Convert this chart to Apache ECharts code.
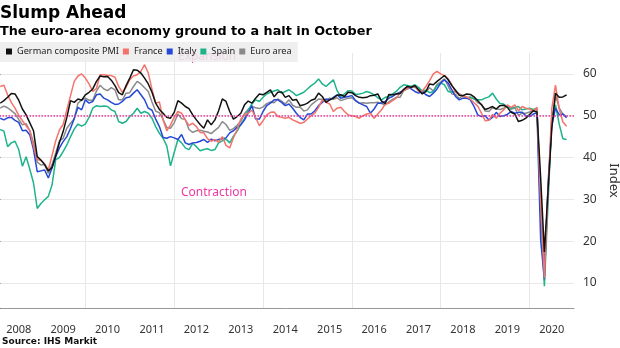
<!DOCTYPE html>
<html>
<head>
<meta charset="utf-8">
<script src="https://cdn.jsdelivr.net/npm/echarts@6/dist/echarts.min.js"></script>
<style>
  html, body { margin: 0; padding: 0; background: #fff; }
  #chart { width: 620px; height: 348px; }
</style>
</head>
<body>
<div id="chart"></div>
<script>
// Year labels along the bottom axis (one band per calendar year)
const years = ['2008', '2009', '2010', '2011', '2012', '2013', '2014',
  '2015', '2016', '2017', '2018', '2019', '2020'];

// Monthly composite PMI readings, Jan 2008 - Oct 2020
const german = [
  53.0, 53.6, 54.4, 55.3, 55.2, 53.7, 51.6, 50.2, 48.3, 46.4, 40.2, 39.4,
  38.3, 36.8, 37.6, 40.4, 43.6, 46.2, 49.6, 53.6, 53.2, 54.0, 53.7, 55.0,
  55.6, 56.4, 58.2, 59.5, 59.3, 59.4, 58.5, 57.2, 55.5, 55.0, 57.2, 59.0,
  61.0, 60.9, 60.2, 59.0, 57.6, 55.6, 53.0, 51.5, 50.6, 49.6, 49.4, 50.8,
  53.6, 53.0, 52.2, 51.7, 50.2, 49.0, 47.9, 47.0, 49.0, 47.8, 49.0, 51.2,
  54.0, 53.4, 51.0, 49.2, 49.8, 50.6, 52.6, 53.5, 53.0, 54.2, 55.2, 55.0,
  55.6, 56.2, 54.5, 55.6, 55.7, 54.4, 54.8, 53.7, 53.9, 52.4, 52.6, 53.0,
  53.7, 54.0, 55.4, 54.6, 53.2, 53.8, 54.2, 54.9, 55.0, 54.6, 55.6, 55.5,
  54.8, 54.4, 54.3, 54.4, 54.8, 54.9, 55.2, 53.5, 52.9, 55.1, 55.0, 55.2,
  55.3, 56.3, 57.0, 56.8, 57.2, 56.2, 55.2, 55.8, 57.6, 57.4, 58.2, 58.9,
  59.6, 58.6, 57.2, 56.1, 54.9, 54.8, 55.2, 55.1, 54.5, 53.6, 52.6, 51.5,
  51.8, 52.2, 51.6, 52.4, 52.5, 52.0, 50.8, 50.4, 48.6, 48.9, 49.4, 50.3,
  51.2, 50.9, 35.0, 17.4, 32.3, 47.0, 55.4, 54.4, 54.5, 55.0
];

const france = [
  57.0, 57.3, 55.0, 53.2, 51.8, 50.1, 48.8, 47.6, 46.4, 42.7, 39.5, 39.3,
  38.5, 37.0, 40.5, 44.0, 46.6, 47.9, 51.4, 54.8, 58.2, 59.5, 60.0, 59.0,
  57.6, 55.8, 56.5, 59.8, 59.8, 59.6, 59.6, 59.2, 57.0, 55.6, 56.8, 58.6,
  59.5, 59.8, 60.6, 62.2, 60.2, 56.3, 53.0, 53.3, 49.0, 46.4, 47.8, 49.6,
  51.0, 50.6, 49.0, 47.7, 48.2, 47.4, 46.0, 45.9, 44.5, 43.9, 44.3, 43.6,
  45.0, 42.9, 42.3, 44.7, 46.7, 49.2, 50.2, 50.6, 51.3, 49.6, 47.6, 48.8,
  50.2, 50.8, 50.9, 49.8, 49.6, 49.4, 49.6, 49.0, 48.6, 48.2, 48.4, 49.2,
  50.0, 50.6, 52.0, 53.8, 53.2, 52.8, 51.0, 51.8, 52.0, 51.0, 50.2, 50.0,
  49.8, 49.4, 50.0, 50.4, 50.6, 49.4, 50.4, 51.4, 52.8, 53.0, 53.6, 54.2,
  55.4, 56.0, 56.6, 56.8, 57.2, 55.8, 55.9, 57.0, 58.4, 60.0, 60.6, 60.0,
  59.6, 58.8, 57.4, 55.6, 55.2, 54.6, 54.5, 54.0, 53.1, 52.3, 50.6, 48.8,
  48.9, 50.3, 49.4, 50.6, 51.4, 52.6, 52.0, 52.6, 51.2, 52.2, 51.8, 51.6,
  51.1, 52.0, 28.9, 11.1, 32.1, 51.7, 57.3, 51.6, 48.5, 47.5
];

const italy = [
  49.4, 49.0, 49.5, 49.6, 48.9, 48.4, 46.4, 46.5, 45.4, 41.9, 36.6, 36.8,
  37.0, 35.1, 37.5, 40.2, 42.3, 43.8, 45.0, 47.0, 49.3, 52.0, 51.4, 53.8,
  53.0, 53.4, 55.0, 55.2, 54.2, 53.8, 53.2, 52.7, 52.8, 53.4, 54.3, 54.5,
  55.4, 56.2, 55.0, 53.8, 51.8, 51.3, 49.2, 47.4, 44.8, 44.6, 45.0, 44.7,
  44.3, 45.5, 43.5, 43.1, 43.5, 43.6, 43.9, 44.3, 43.6, 44.4, 44.0, 44.3,
  44.5, 44.7, 45.9, 46.4, 47.2, 47.8, 49.0, 50.6, 52.4, 49.2, 49.2, 51.0,
  52.4, 53.0, 53.8, 53.8, 53.2, 52.4, 52.8, 51.8, 50.6, 49.6, 49.0, 50.4,
  50.4, 51.2, 52.4, 53.2, 54.0, 53.8, 54.4, 55.0, 54.2, 54.4, 54.6, 54.8,
  53.6, 53.0, 52.6, 52.2, 50.6, 51.6, 53.0, 53.0, 53.4, 54.2, 54.6, 55.2,
  55.6, 56.0, 57.0, 56.4, 55.8, 55.4, 55.8, 55.0, 54.6, 55.4, 56.4, 57.8,
  58.6, 57.8, 56.2, 54.6, 53.8, 54.2, 54.2, 53.8, 52.2, 50.2, 49.8, 50.0,
  49.0, 49.6, 50.8, 49.8, 50.0, 50.3, 51.0, 50.6, 50.8, 50.8, 50.0, 49.8,
  50.4, 50.7, 20.2, 10.9, 33.9, 47.6, 51.8, 50.2, 50.4, 49.5
];

const spain = [
  46.7, 46.3, 42.6, 43.5, 43.9, 41.9, 37.9, 40.2, 37.2, 33.9, 27.8, 29.0,
  29.9, 30.7, 33.4, 39.5, 40.0, 41.4, 43.0, 45.0, 46.8, 48.0, 47.5, 48.0,
  49.6, 51.8, 52.4, 52.2, 52.3, 52.2, 51.4, 51.0, 48.6, 48.2, 48.6, 49.8,
  50.6, 51.8, 50.6, 51.0, 50.6, 49.4, 47.4, 45.8, 44.6, 42.8, 38.0, 41.2,
  44.3, 43.5, 42.3, 41.9, 43.4, 42.6, 41.6, 41.9, 42.1, 41.7, 41.9, 43.5,
  44.0, 44.4, 43.5, 45.1, 46.3, 47.9, 49.3, 51.4, 52.8, 53.8, 53.4, 54.4,
  55.2, 55.6, 55.9, 56.2, 55.4, 55.8, 56.2, 55.6, 54.8, 55.2, 55.6, 56.4,
  57.2, 57.8, 58.8, 57.6, 57.0, 57.8, 58.6, 56.0, 54.6, 55.2, 56.0, 55.9,
  55.1, 55.2, 55.4, 55.8, 55.5, 55.0, 54.3, 53.8, 54.4, 54.6, 55.2, 55.8,
  56.8, 57.4, 57.2, 57.0, 57.4, 56.8, 55.9, 56.1, 55.5, 55.8, 57.2, 57.8,
  57.4, 55.8, 55.6, 55.8, 55.2, 54.6, 54.2, 54.4, 54.0, 53.8, 53.8, 54.2,
  54.5, 55.4, 54.0, 52.9, 52.8, 52.1, 51.8, 52.0, 52.2, 51.4, 51.6, 51.8,
  51.5, 51.8, 26.7, 9.2, 29.2, 49.7, 52.6, 48.0, 44.5, 44.3
];

const euroArea = [
  51.8, 52.3, 51.9, 51.2, 50.5, 49.1, 47.8, 48.1, 46.4, 43.6, 38.9, 38.2,
  38.3, 36.2, 38.3, 41.1, 44.0, 44.6, 47.0, 48.2, 49.3, 53.0, 53.7, 54.2,
  53.7, 53.7, 55.9, 57.3, 56.4, 56.0, 56.7, 56.2, 53.8, 53.8, 55.4, 55.5,
  57.0, 58.2, 57.6, 56.7, 55.8, 53.3, 51.1, 50.7, 49.1, 47.2, 47.0, 48.3,
  50.4, 49.3, 49.1, 46.7, 46.0, 46.4, 46.5, 46.3, 46.1, 45.7, 46.5, 47.2,
  48.6, 47.9, 46.5, 46.9, 47.7, 48.7, 50.5, 51.5, 52.2, 51.9, 51.7, 52.1,
  52.9, 53.3, 53.1, 54.0, 53.5, 52.8, 53.8, 52.5, 52.0, 52.1, 51.1, 51.4,
  52.6, 53.3, 54.0, 53.9, 53.6, 54.2, 53.9, 54.3, 53.6, 53.9, 54.2, 54.3,
  53.6, 53.0, 53.1, 53.0, 53.1, 53.1, 53.2, 52.9, 52.6, 53.3, 53.9, 54.4,
  54.4, 56.0, 56.4, 56.8, 56.8, 56.3, 55.7, 55.7, 56.7, 55.9, 57.5, 58.1,
  58.8, 57.1, 55.2, 55.1, 54.1, 54.9, 54.3, 54.5, 54.1, 53.1, 52.7, 51.1,
  51.0, 51.9, 51.6, 51.5, 51.8, 52.2, 51.5, 51.9, 50.1, 50.6, 50.6, 50.9,
  51.3, 51.6, 29.7, 13.6, 31.9, 48.5, 54.9, 51.9, 50.4, 49.8
];

const legendOrder = ['German composite PMI', 'France', 'Italy', 'Spain', 'Euro area'];

// Drawn back to front: Euro area underneath, Germany on top
const lines = [
  { name: 'Euro area', values: euroArea, color: '#8a8a8a' },
  { name: 'Spain', values: spain, color: '#1fb38c' },
  { name: 'Italy', values: italy, color: '#2548d6' },
  { name: 'France', values: france, color: '#f4736a' },
  { name: 'German composite PMI', values: german, color: '#111111' }
];

// x position of each reading: months counted from the start of 2008,
// plotted at the month's end
const toPoints = arr => arr.map((v, i) => [i + 1, v]);

const series = lines.map(l => ({
  name: l.name,
  type: 'line',
  xAxisIndex: 1,
  showSymbol: false,
  symbol: 'none',
  data: toPoints(l.values),
  itemStyle: { color: l.color },
  lineStyle: { color: l.color, width: 1.5 },
  emphasis: { disabled: true }
}));

// Dotted 50 threshold between expansion and contraction
series[series.length - 1].markLine = {
  silent: true,
  symbol: 'none',
  label: { show: false },
  lineStyle: { type: 'dotted', color: '#e8389f', width: 1.5 },
  data: [{ yAxis: 50 }]
};

const chart = echarts.init(document.getElementById('chart'));
chart.setOption({
  animation: false,
  backgroundColor: '#fff',
  title: [
    {
      text: 'Slump Ahead', left: 0, top: 5, padding: 0,
      textStyle: { fontFamily: 'DejaVu Sans', fontWeight: 'bold', fontSize: 17, color: '#000' }
    },
    {
      text: 'The euro-area economy ground to a halt in October', left: 0, top: 25, padding: 0,
      textStyle: { fontFamily: 'DejaVu Sans', fontWeight: 'bold', fontSize: 12.8, color: '#000' }
    },
    {
      text: 'Source: IHS Markit', left: 2, top: 337, padding: 0,
      textStyle: { fontFamily: 'DejaVu Sans', fontWeight: 'bold', fontSize: 9, color: '#111' }
    }
  ],
  legend: {
    data: legendOrder,
    left: 0, top: 42,
    icon: 'rect',
    itemWidth: 6, itemHeight: 6, itemGap: 4,
    backgroundColor: 'rgba(236,236,236,0.85)',
    padding: [5, 6, 6, 6],
    z: 10,
    selectedMode: false,
    textStyle: { fontFamily: 'Noto Sans', fontSize: 9.2, color: '#222' }
  },
  graphic: [
    {
      type: 'text', left: 178, top: 51, z: 1,
      style: { text: 'Expansion', fill: '#ee48a8', font: '12px "Noto Sans"' }
    },
    {
      type: 'text', left: 181, top: 187, z: 1,
      style: { text: 'Contraction', fill: '#ec3aa5', font: '12px "Noto Sans"' }
    }
  ],
  grid: { left: -3.5, right: 46, top: 53, bottom: 40, outerBoundsMode: 'none', containLabel: false },
  xAxis: [
    {
      type: 'category',
      data: years,
      boundaryGap: true,
      position: 'bottom',
      axisLine: { lineStyle: { color: '#999' } },
      axisTick: { interval: 0, length: 27, lineStyle: { color: '#aaa' } },
      axisLabel: { interval: 0, color: '#333', fontSize: 11, margin: 16, fontFamily: 'Noto Sans' },
      splitLine: { show: false }
    },
    {
      type: 'value',
      min: 0, max: 156, interval: 24,
      axisLine: { show: false },
      axisTick: { show: false },
      axisLabel: { show: false },
      splitLine: { show: true, showMinLine: false, showMaxLine: false, lineStyle: { color: '#e8e8e8' } }
    }
  ],
  yAxis: {
    type: 'value',
    position: 'right',
    offset: 5,
    min: 4, max: 65, splitNumber: 6,
    axisLine: { show: true, lineStyle: { color: '#666' } },
    axisTick: { show: true, length: 4, lineStyle: { color: '#666' } },
    minorTick: { show: true, splitNumber: 2, length: 3, lineStyle: { color: '#666' } },
    axisLabel: { color: '#333', fontSize: 12, margin: 4, fontFamily: 'Noto Sans', showMinLabel: false, showMaxLabel: false },
    splitLine: { show: true, showMinLine: false, showMaxLine: false, lineStyle: { color: '#e8e8e8' } },
    name: 'Index',
    nameLocation: 'middle',
    nameRotate: -90,
    nameGap: 26,
    nameTextStyle: { color: '#333', fontSize: 13, fontFamily: 'Noto Sans' }
  },
  series: series
});
</script>
</body>
</html>
